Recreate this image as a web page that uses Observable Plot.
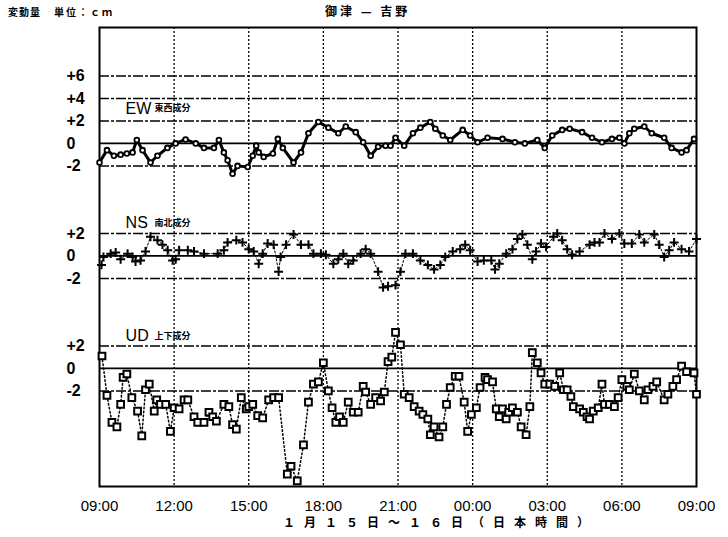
<!DOCTYPE html>
<html><head><meta charset="utf-8">
<script src="https://cdn.jsdelivr.net/npm/d3@7"></script>
<script src="https://cdn.jsdelivr.net/npm/@observablehq/plot@0.6"></script>
<style>
body{margin:0;background:#fff;}
#wrap{position:relative;width:728px;height:537px;overflow:hidden;}
.t{position:absolute;white-space:nowrap;font-family:"Noto Sans CJK JP",sans-serif;font-weight:bold;color:#000;}
#chart{position:absolute;left:0;top:22px;}
</style></head>
<body><div id="wrap">
<div class="t" style="left:8px;top:4px;font-size:10px;letter-spacing:1px;">変動量</div>
<div class="t" style="left:54px;top:4px;font-size:10px;letter-spacing:2px;">単位：ｃｍ</div>
<div class="t" style="left:325px;top:2px;font-size:12px;letter-spacing:3px;">御津 — 吉野</div>
<div id="chart"></div>
<div class="t" style="left:283px;top:514px;font-size:12px;line-height:16px;letter-spacing:9px;">１月１５日～１６日（日本時間）</div>
</div>
<script>
// time in hours since 09:00 on Jan 15
const xTickHours = [0, 3, 6, 9, 12, 15, 18, 21, 24];
const xTickLabels = ["09:00","12:00","15:00","18:00","21:00","00:00","03:00","06:00","09:00"];

const ewHours = [0,0.3,0.58,0.85,1.1,1.33,1.5,1.73,2.05,2.33,2.73,3.06,3.46,3.87,4.2,4.6,4.8,5.0,5.15,5.35,5.55,5.96,6.16,6.3,6.4,6.6,6.97,7.17,7.37,7.8,8.1,8.4,8.8,9.2,9.6,9.9,10.3,10.6,10.9,11.2,11.5,11.7,11.9,12.25,12.6,12.9,13.3,13.5,13.8,14.1,14.6,14.9,15.2,15.6,16.2,16.7,17.1,17.6,17.9,18.2,18.6,18.9,19.4,19.8,20.2,20.6,20.9,21.1,21.3,21.5,21.9,22.2,22.7,23.0,23.4,23.6,23.9];
const ewCm = [-1.7,-0.6,-1.1,-1.0,-0.9,-0.8,0.3,-0.6,-1.7,-1.1,-0.4,0.0,0.35,0.0,-0.4,-0.4,0.3,-0.8,-1.5,-2.7,-2.0,-2.1,-1.1,-0.2,-0.8,-1.2,-0.9,0.4,-0.4,-1.7,-0.8,0.9,1.9,1.4,0.9,1.5,1.0,0.1,-1.1,-0.3,-0.2,-0.2,0.5,-0.2,0.9,1.4,1.9,1.3,0.7,0.3,1.2,0.7,0.1,0.5,0.4,0.1,0.0,0.3,-0.4,0.7,1.2,1.3,1.0,0.5,0.1,0.4,0.5,0.0,0.9,1.3,1.5,0.9,0.5,-0.4,-0.8,-0.6,0.4];

const nsHours = [0.08,0.16,0.45,0.65,0.85,1.13,1.33,1.45,1.65,1.85,2.05,2.33,2.53,2.74,2.94,3.06,3.2,3.55,3.8,4.2,4.75,5.0,5.15,5.5,5.75,6.0,6.2,6.4,6.56,6.76,7.0,7.2,7.28,7.5,7.8,8.1,8.4,8.6,8.9,9.1,9.4,9.6,9.8,10.0,10.2,10.5,10.7,10.9,11.2,11.4,11.6,11.9,12.1,12.3,12.6,12.9,13.2,13.45,13.7,13.9,14.2,14.5,14.7,14.9,15.2,15.45,15.75,15.9,16.07,16.35,16.6,16.8,17.0,17.2,17.4,17.55,17.75,17.95,18.25,18.4,18.6,18.8,19.0,19.3,19.7,19.9,20.1,20.3,20.6,20.9,21.1,21.4,21.7,21.9,22.3,22.5,22.7,22.9,23.1,23.4,23.7,24.0];
const nsCm = [-0.8,-0.1,0.2,0.3,-0.3,0.2,-0.1,-0.5,-0.4,0.4,1.7,1.4,1.0,0.5,-0.4,-0.3,0.5,0.5,0.4,0.2,0.2,0.5,1.2,1.4,1.2,0.6,0.4,-0.7,0.2,1.1,1.0,-1.4,-0.1,1.0,1.9,1.0,1.0,0.2,0.2,0.1,-0.7,-0.3,0.2,-0.7,-0.4,0.2,0.6,0.2,-1.4,-2.8,-2.7,-2.6,-1.4,0.2,0.2,-0.4,-0.8,-1.2,-0.8,-0.1,0.4,0.6,1.0,0.5,-0.5,-0.4,-0.4,-1.2,-0.7,0.2,0.6,1.5,1.9,1.0,-0.3,0.4,1.1,0.8,1.7,2.0,1.4,0.6,0.1,0.4,1.0,1.2,1.2,2.0,1.5,2.0,1.1,1.1,1.9,1.2,1.9,1.0,-0.1,0.5,1.2,0.6,0.4,1.5];

const udHours = [0.1,0.3,0.5,0.7,0.85,0.95,1.1,1.3,1.53,1.7,1.85,2.0,2.2,2.3,2.45,2.66,2.85,3.0,3.2,3.4,3.55,3.8,3.95,4.2,4.4,4.55,4.7,5.0,5.2,5.35,5.5,5.7,5.9,6.0,6.16,6.36,6.56,6.8,7.0,7.2,7.55,7.7,7.95,8.2,8.4,8.6,8.8,9.0,9.2,9.35,9.5,9.65,9.8,10.0,10.2,10.4,10.6,10.7,10.9,11.1,11.3,11.45,11.6,11.75,11.9,12.1,12.25,12.45,12.65,12.85,13.0,13.2,13.3,13.45,13.65,13.8,13.95,14.1,14.3,14.45,14.66,14.8,14.95,15.15,15.3,15.5,15.6,15.8,15.95,16.07,16.2,16.35,16.45,16.6,16.8,16.95,17.15,17.3,17.4,17.6,17.75,17.9,18.1,18.3,18.5,18.65,18.8,18.95,19.05,19.3,19.45,19.6,19.7,19.85,20.05,20.2,20.3,20.5,20.7,20.85,21.0,21.2,21.3,21.5,21.7,21.9,22.05,22.25,22.4,22.7,22.85,23.05,23.2,23.4,23.6,23.9,24.0];
const udCm = [1.1,-2.4,-4.8,-5.2,-3.2,-0.8,-0.5,-2.6,-3.8,-6.0,-1.9,-1.4,-3.8,-2.8,-3.2,-3.2,-5.6,-3.5,-3.6,-2.8,-2.8,-4.3,-4.8,-4.8,-3.9,-4.3,-4.7,-3.2,-3.4,-5.0,-5.4,-2.6,-3.6,-3.4,-3.2,-4.2,-4.4,-2.8,-2.6,-2.6,-9.4,-8.7,-10.0,-6.8,-3.0,-1.4,-1.2,0.5,-2.0,-3.5,-4.8,-4.3,-4.8,-3.0,-3.9,-3.9,-1.6,-2.1,-3.2,-2.6,-2.9,-2.1,0.6,1.0,3.2,2.1,-2.3,-2.6,-3.4,-3.8,-4.1,-4.5,-5.9,-5.2,-6.1,-5.2,-3.2,-1.7,-0.7,-0.7,-3.0,-5.6,-4.1,-3.5,-1.7,-0.8,-1.0,-1.2,-3.6,-4.3,-3.6,-4.5,-3.9,-3.5,-3.9,-5.2,-5.9,-3.4,1.4,0.5,-0.4,-1.4,-1.4,-1.6,-0.4,-1.9,-1.9,-2.5,-3.4,-3.6,-3.9,-4.3,-4.5,-3.8,-3.5,-1.4,-3.2,-3.2,-3.4,-2.6,-1.0,-1.6,-1.9,-0.5,-2.0,-2.8,-1.9,-1.6,-1.2,-2.8,-2.3,-1.6,-1.0,0.2,-0.3,-0.4,-2.3];

const panelNames = ["EW", "NS", "UD"];
const panelSubtitles = ["東西成分", "南北成分", "上下成分"];
const ewTicks = [6, 4, 2, 0, -2];
const ewTickLabels = ["+6", "+4", "+2", "0", "-2"];
const nsTicks = [2, 0, -2];
const nsTickLabels = ["+2", "0", "-2"];
const udTicks = [2, 0, -2];
const udTickLabels = ["+2", "0", "-2"];

// layout: each component drawn around its own baseline on one shared cm scale
const offsets = [0, -10, -20];
const toRows = (hs, vs, off) => hs.map((h, i) => ({h, y: vs[i] + off}));
const ew = toRows(ewHours, ewCm, offsets[0]);
const ns = toRows(nsHours, nsCm, offsets[1]);
const ud = toRows(udHours, udCm, offsets[2]);

const yTicks = [], yLabels = [];
[[ewTicks, ewTickLabels], [nsTicks, nsTickLabels], [udTicks, udTickLabels]].forEach(([t, l], p) => {
  t.forEach((v, i) => { yTicks.push(v + offsets[p]); yLabels.push(l[i]); });
});
const labelMap = new Map(yTicks.map((v, i) => [v, yLabels[i]]));
const zeroLines = offsets.slice();
const otherLines = yTicks.filter(v => !zeroLines.includes(v));
const panels = panelNames.map((n, i) => ({name: n, sub: panelSubtitles[i], h: 1.05, y: offsets[i] + (i === 0 ? 3.1 : 2.9)}));

const chart = Plot.plot({
  width: 728, height: 494,
  marginLeft: 99, marginRight: 32, marginTop: 5, marginBottom: 30,
  style: {fontFamily: "'Liberation Sans', Arial, sans-serif", background: "white", color: "black"},
  x: {domain: [0, 24]},
  y: {domain: [-30.5, 10.3]},
  marks: [
    Plot.ruleX(xTickHours.slice(1, -1), {stroke: "black", strokeWidth: 1.3, strokeDasharray: "2,2"}),
    Plot.ruleY(otherLines, {stroke: "black", strokeWidth: 1.5, strokeDasharray: "10,2,3,2"}),
    Plot.ruleY(zeroLines, {stroke: "black", strokeWidth: 1.6}),
    Plot.frame({stroke: "black", strokeWidth: 2}),
    Plot.axisX({ticks: xTickHours, tickFormat: (d) => xTickLabels[xTickHours.indexOf(d)], tickSize: 0, tickPadding: 14, fontSize: 15, label: null}),
    Plot.axisY({ticks: yTicks, tickFormat: (d) => labelMap.get(d), tickSize: 0, tickPadding: 33, textAnchor: "start", fontSize: 16, fontWeight: "bold", label: null}),
    // EW
    Plot.line(ew, {x: "h", y: "y", stroke: "black", strokeWidth: 3}),
    Plot.dot(ew, {x: "h", y: "y", r: 2.4, fill: "white", stroke: "black", strokeWidth: 1.8}),
    // NS
    Plot.line(ns, {x: "h", y: "y", stroke: "black", strokeWidth: 1, strokeDasharray: "2,2"}),
    Plot.dot(ns, {x: "h", y: "y", symbol: "plus", r: 3, stroke: "black", strokeWidth: 2}),
    // UD
    Plot.line(ud, {x: "h", y: "y", stroke: "black", strokeWidth: 1.5, strokeDasharray: "1.5,2.5"}),
    Plot.dot(ud, {x: "h", y: "y", symbol: "square", r: 3.8, fill: "white", stroke: "black", strokeWidth: 2}),
    // panel labels
    Plot.text(panels, {x: "h", y: "y", text: "name", textAnchor: "start", fontSize: 16, fill: "black"}),
    Plot.text(panels, {x: "h", y: "y", text: "sub", textAnchor: "start", dx: 29, fontSize: 9, fontWeight: "bold", fill: "black", fontFamily: "'Noto Sans CJK JP', sans-serif"})
  ]
});
document.getElementById("chart").appendChild(chart);
</script>
</body></html>
